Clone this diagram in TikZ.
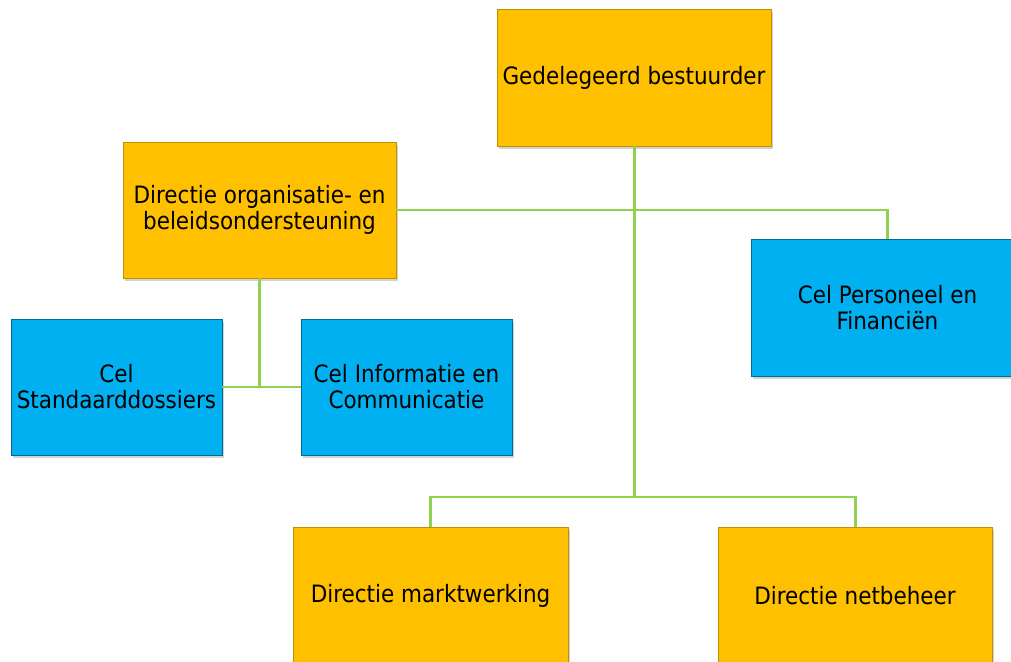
\documentclass[tikz,border=0pt]{standalone}
\usepackage{fontspec}
\setmainfont{DejaVu Sans Condensed}
\usetikzlibrary{calc,shadows}
\definecolor{boxorange}{HTML}{FFC000}
\definecolor{boxblue}{HTML}{00B0F0}
\definecolor{linkgreen}{HTML}{92D050}
\begin{document}
\begin{tikzpicture}[x=0.02cm, y=-0.02cm,
	dirbox/.style={draw=boxorange!75!black, fill=boxorange, line width=0.5pt, align=center,
		font=\fontsize{13.6}{14.8}\selectfont, inner sep=0pt,
		drop shadow={opacity=0.35, shadow xshift=1.2pt, shadow yshift=-1.8pt}},
	celbox/.style={dirbox, draw=boxblue!60!black, fill=boxblue},
	link/.style={draw=linkgreen, line width=1.7pt}]
		%%%%% START %%%%%
		\useasboundingbox (0,0) rectangle (1011,662);
		\clip (0,0) rectangle (1011,662);
		
		\node[dirbox, minimum width=5.48cm, minimum height=2.74cm] (ceo) at (634, 77.5) {Gedelegeerd bestuurder};
		\node[dirbox, minimum width=5.46cm, minimum height=2.72cm] (dorg) at (259.5, 210) {Directie organisatie- en\\beleidsondersteuning};
		
		\node[celbox, minimum width=4.22cm, minimum height=2.72cm] (cstd) at (116.5, 387) {Cel\\Standaarddossiers};
		\node[celbox, minimum width=4.22cm, minimum height=2.72cm] (cinf) at (406.5, 387) {Cel Informatie en\\Communicatie};
		\node[celbox, minimum width=5.46cm, minimum height=2.74cm] (cpers) at (887.5, 307.5) {Cel Personeel en\\Financiën};
		
		\node[dirbox, minimum width=5.5cm, minimum height=2.74cm] (dmarkt) at (430.5, 595.5) {Directie marktwerking};
		\node[dirbox, minimum width=5.48cm, minimum height=2.74cm] (dnet) at (855, 595.5) {Directie netbeheer};
		
		\coordinate (bus) at (634, 497);
		
		\draw[link] (ceo.south) -- (bus);
		\draw[link] (dmarkt.north) |- (bus) -| (dnet.north);
		\draw[link] (dorg.east) -| (cpers.north);
		\draw[link] (dorg.south) -- (dorg.south |- cstd.east);
		\draw[link] (cstd.east) -- (cinf.west);
		
		%%%%% END %%%%%
	\end{tikzpicture}
\end{document}
